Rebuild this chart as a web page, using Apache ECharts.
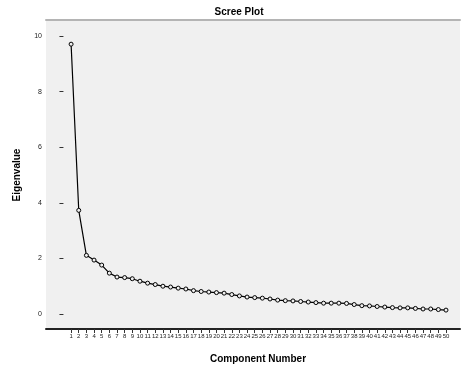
<!DOCTYPE html>
<html><head><meta charset="utf-8">
<script src="https://cdn.jsdelivr.net/npm/echarts@6/dist/echarts.min.js"></script>
<style>html,body{margin:0;padding:0;background:#fff}#c{width:461px;height:369px}</style>
</head><body><div id="c"></div>
<script>
const components = [1,2,3,4,5,6,7,8,9,10,11,12,13,14,15,16,17,18,19,20,21,22,23,24,25,26,27,28,29,30,31,32,33,34,35,36,37,38,39,40,41,42,43,44,45,46,47,48,49,50];
const eigenvalues = [9.71,3.73,2.11,1.94,1.76,1.47,1.33,1.31,1.27,1.18,
  1.11,1.06,1.00,0.97,0.93,0.90,0.84,0.81,0.79,0.77,
  0.75,0.70,0.65,0.61,0.59,0.57,0.54,0.50,0.48,0.47,
  0.45,0.43,0.41,0.39,0.39,0.39,0.38,0.34,0.30,0.29,
  0.27,0.25,0.23,0.22,0.22,0.20,0.18,0.18,0.16,0.14];
const yTicks = [0,2,4,6,8,10];
const titleText = 'Scree Plot';
const xTitle = 'Component Number';
const yTitle = 'Eigenvalue';

const chart = echarts.init(document.getElementById('c'));
const font = '"Liberation Sans", Arial, sans-serif';
const xMin = -2.28, xMax = 51.83;
chart.setOption({
  animation: false,
  backgroundColor: '#ffffff',
  grid: {left: 46, top: 20, right: 1, bottom: 40, show: true, backgroundColor: '#f0f0f0', borderWidth: 0},
  xAxis: [{
    type: 'value', min: xMin, max: xMax, position: 'bottom',
    splitLine: {show: false},
    axisLine: {show: true, onZero: false, lineStyle: {color: '#222', width: 2}},
    axisTick: {show: true, length: 4, customValues: components, lineStyle: {color: '#333'}},
    axisLabel: {show: true, customValues: components, fontSize: 6, margin: 4, color: '#222', fontFamily: font}
  }, {
    type: 'value', min: xMin, max: xMax, position: 'top',
    splitLine: {show: false},
    axisLine: {show: true, onZero: false, lineStyle: {color: '#b4b4b4', width: 2}},
    axisTick: {show: false}, axisLabel: {show: false}
  }],
  yAxis: {
    type: 'value', min: -0.54, max: 10.58,
    splitLine: {show: false},
    axisLine: {show: false},
    axisTick: {show: true, length: 4, customValues: yTicks, lineStyle: {color: '#333'}},
    axisLabel: {show: true, customValues: yTicks, fontSize: 7, margin: 4, color: '#222', fontFamily: font}
  },
  graphic: [
    {type: 'text', x: 239, y: 12, style: {text: titleText, font: 'bold 10px ' + font, fill: '#000', textAlign: 'center', textVerticalAlign: 'middle'}},
    {type: 'text', x: 258, y: 359, style: {text: xTitle, font: 'bold 10px ' + font, fill: '#000', textAlign: 'center', textVerticalAlign: 'middle'}},
    {type: 'text', x: 17, y: 175, rotation: Math.PI / 2, style: {text: yTitle, font: 'bold 10px ' + font, fill: '#000', textAlign: 'center', textVerticalAlign: 'middle'}}
  ],
  series: [{
    type: 'line',
    data: components.map((c, i) => [c, eigenvalues[i]]),
    symbol: 'circle', symbolSize: 4,
    itemStyle: {color: '#f0f0f0', borderColor: '#000', borderWidth: 1},
    lineStyle: {color: '#000', width: 1.2}
  }]
});
</script>
</body></html>
